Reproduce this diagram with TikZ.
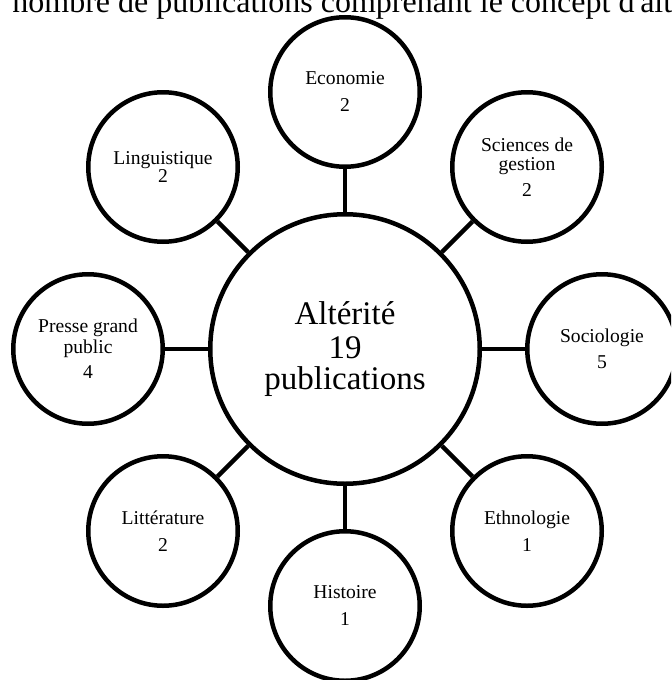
\documentclass[tikz,border=0pt]{standalone}
\usepackage{fontspec}
\setmainfont{Liberation Serif}
\begin{document}
\begin{tikzpicture}[x=0.5pt,y=-0.5pt,
  sat/.style={circle,draw,line width=2.25pt,minimum size=74.75pt,inner sep=0pt,align=center,font=\fontsize{9.8pt}{10pt}\selectfont},
  hub/.style={circle,draw,line width=2.25pt,minimum size=134.75pt,inner sep=0pt,align=center,font=\fontsize{16.5pt}{16.5pt}\selectfont},
  link/.style={line width=2.25pt}]
\useasboundingbox (0,0) rectangle (671,680);
\clip (0,0) rectangle (671,680);
\node[anchor=base west,inner sep=0pt,font=\fontsize{16pt}{18pt}\selectfont] (title) at (12,12) {nombre de publications comprenant le concept d\textquotesingle alt\'erit\'e};
\node[hub] (c) at (345,349) {\raisebox{0pt}{Alt\'erit\'e}\\[0.5pt]19\\[-1pt]publications};
\node[sat] (eco) at (345,92) {Economie\\[3.5pt]2};
\node[sat] (sci) at (527,167) {Sciences de\\[-0.5pt]gestion\\[3pt]2};
\node[sat] (soc) at (602,349) {Sociologie\\[3pt]5};
\node[sat] (eth) at (527,531) {Ethnologie\\[3.5pt]1};
\node[sat] (his) at (345,606) {Histoire\\[3.5pt]1};
\node[sat] (lit) at (163,531) {Litt\'erature\\[3.5pt]2};
\node[sat] (pre) at (88,349) {Presse grand\\[0.5pt]public\\[2.5pt]4};
\node[sat] (lin) at (163,167) {Linguistique\\[-1pt]2};
\foreach \s in {eco,sci,soc,eth,his,lit,pre,lin}
  \draw[link] (c) -- (\s);
\end{tikzpicture}
\end{document}
